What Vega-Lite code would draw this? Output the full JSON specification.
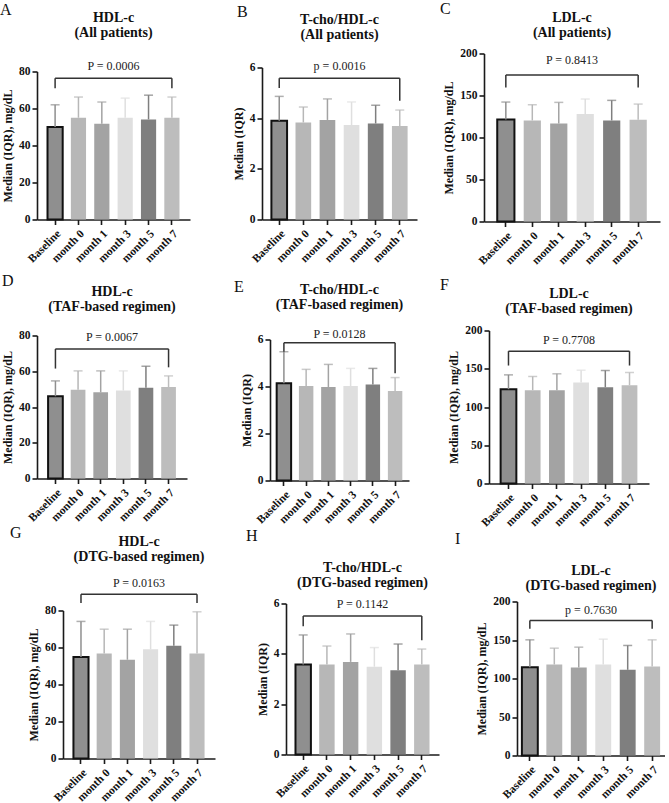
{
"$schema":"https://vega.github.io/schema/vega-lite/v6.json",
"padding":{"top":0.5,"left":0,"right":0,"bottom":0},
"config":{"font":"Liberation Serif","view":{"stroke":null},
"axis":{"domainColor":"#1a1a1a","domainWidth":1.6,"tickColor":"#1a1a1a","tickWidth":1.6,"tickSize":5,"labelFont":"Liberation Serif","labelFontWeight":"bold","labelFontSize":11.5,"labelColor":"#111","titleFont":"Liberation Serif","titleFontWeight":"bold","titleFontSize":12,"titleColor":"#111","grid":false,"labelPadding":2,"titlePadding":4},
"axisX":{"labelAngle":-45,"labelPadding":3},
"axisY":{"labelOverlap":false},
"title":{"font":"Liberation Serif","fontSize":14,"fontWeight":"bold","color":"#111","lineHeight":15}},
"datasets":{
"A":[{"group":"Baseline","median":50,"upper":62},{"group":"month 0","median":55,"upper":66.2},{"group":"month 1","median":51.8,"upper":63.5},{"group":"month 3","median":55,"upper":65.6},{"group":"month 5","median":54.1,"upper":67.2},{"group":"month 7","median":55,"upper":66.2}],
"Abr":[{"from":"Baseline","to":"month 7","mid":"month 1","top":76.4,"leftEnd":71,"rightEnd":71,"label":"P = 0.0006","labelY":83}],
"B":[{"group":"Baseline","median":3.9,"upper":4.86},{"group":"month 0","median":3.83,"upper":4.44},{"group":"month 1","median":3.93,"upper":4.76},{"group":"month 3","median":3.73,"upper":4.64},{"group":"month 5","median":3.79,"upper":4.51},{"group":"month 7","median":3.69,"upper":4.32}],
"Bbr":[{"from":"Baseline","to":"month 7","mid":"month 1","top":5.58,"leftEnd":5.19,"rightEnd":4.69,"label":"p = 0.0016","labelY":6.05}],
"C":[{"group":"Baseline","median":121.5,"upper":142.2},{"group":"month 0","median":120.3,"upper":139},{"group":"month 1","median":116.7,"upper":141.8},{"group":"month 3","median":127.9,"upper":145.8},{"group":"month 5","median":120.3,"upper":144.2},{"group":"month 7","median":121.1,"upper":139.8}],
"Cbr":[{"from":"Baseline","to":"month 7","mid":"month 1","top":174.5,"leftEnd":159.4,"rightEnd":159.4,"label":"P = 0.8413","labelY":192}],
"D":[{"group":"Baseline","median":46,"upper":54.6},{"group":"month 0","median":49.7,"upper":60.2},{"group":"month 1","median":48.2,"upper":60.2},{"group":"month 3","median":49.2,"upper":60.2},{"group":"month 5","median":50.7,"upper":62.8},{"group":"month 7","median":51.2,"upper":57.4}],
"Dbr":[{"from":"Baseline","to":"month 7","mid":"month 1","top":72.5,"leftEnd":61.5,"rightEnd":62.2,"label":"P = 0.0067","labelY":79}],
"E":[{"group":"Baseline","median":4.14,"upper":5.48},{"group":"month 0","median":4.02,"upper":4.73},{"group":"month 1","median":3.98,"upper":4.94},{"group":"month 3","median":4.02,"upper":4.77},{"group":"month 5","median":4.09,"upper":4.77},{"group":"month 7","median":3.81,"upper":4.38}],
"Ebr":[{"from":"Baseline","to":"month 7","mid":"month 1","top":5.86,"leftEnd":5.48,"rightEnd":4.56,"label":"P = 0.0128","labelY":6.24}],
"F":[{"group":"Baseline","median":123.3,"upper":142},{"group":"month 0","median":122,"upper":139.9},{"group":"month 1","median":122,"upper":143.4},{"group":"month 3","median":132,"upper":148.1},{"group":"month 5","median":125.9,"upper":147.7},{"group":"month 7","median":128.5,"upper":145.1}],
"Fbr":[{"from":"Baseline","to":"month 7","mid":"month 1","top":173,"leftEnd":154.2,"rightEnd":154.2,"label":"P = 0.7708","labelY":187}],
"G":[{"group":"Baseline","median":54.8,"upper":74.1},{"group":"month 0","median":56.8,"upper":69.9},{"group":"month 1","median":53.4,"upper":69.9},{"group":"month 3","median":59,"upper":74.1},{"group":"month 5","median":60.9,"upper":72.1},{"group":"month 7","median":56.8,"upper":79.3}],
"Gbr":[{"from":"Baseline","to":"month 7","mid":"month 1","top":88.8,"leftEnd":84,"rightEnd":84,"label":"P = 0.0163","labelY":95}],
"H":[{"group":"Baseline","median":3.58,"upper":4.75},{"group":"month 0","median":3.58,"upper":4.31},{"group":"month 1","median":3.68,"upper":4.79},{"group":"month 3","median":3.49,"upper":4.25},{"group":"month 5","median":3.35,"upper":4.39},{"group":"month 7","median":3.58,"upper":4.19}],
"Hbr":[{"from":"Baseline","to":"month 7","mid":"month 1","top":5.5,"leftEnd":5.1,"rightEnd":4.54,"label":"P = 0.1142","labelY":6.0}],
"I":[{"group":"Baseline","median":114.7,"upper":150.2},{"group":"month 0","median":118.2,"upper":139.4},{"group":"month 1","median":114.3,"upper":140.7},{"group":"month 3","median":118.2,"upper":151.1},{"group":"month 5","median":111.3,"upper":142.9},{"group":"month 7","median":115.6,"upper":150.2}],
"Ibr":[{"from":"Baseline","to":"month 7","mid":"month 1","top":175.3,"leftEnd":164.5,"rightEnd":164.5,"label":"p = 0.7630","labelY":189}],
"empty":[]
},
"spacing":-5,
"vconcat":[
{"spacing":5,"vconcat":[
{"spacing":23,"hconcat":[{"spacing":42,"hconcat":[
{"title":{"text":"A","anchor":"start","frame":"group","offset":-6.5,"dx":-37,"fontSize":16,"fontWeight":"normal"},"bounds":"flush","spacing":0,"vconcat":[
{"width":1,"height":18,"data":{"name":"empty"},"mark":"point","encoding":{}},
{"width":153,"height":148,"title":{"text":["HDL-c","(All patients)"],"offset":19.5},"layer":[
{"data":{"name":"A"},"encoding":{"x":{"field":"group","type":"nominal","title":null,"scale":{"domain":["Baseline","month 0","month 1","month 3","month 5","month 7"],"paddingInner":0.35,"paddingOuter":0.45}},"color":{"field":"group","type":"nominal","legend":null,"scale":{"domain":["Baseline","month 0","month 1","month 3","month 5","month 7"],"range":["#8f8f8f","#b7b7b7","#a3a3a3","#dfdfdf","#7f7f7f","#bdbdbd"]}}},
"layer":[
{"mark":{"type":"bar","stroke":"#111","strokeWidth":2},"encoding":{"y":{"field":"median","type":"quantitative","title":"Median (IQR), mg/dL","scale":{"domain":[0,80]},"axis":{"values":[0,20,40,60,80],"tickCount":10,"format":"d","labelOverlap":false}},"strokeOpacity":{"condition":{"test":"datum.group === 'Baseline'","value":1},"value":0}}},
{"mark":{"type":"rule","strokeWidth":1.5},"encoding":{"y":{"field":"median","type":"quantitative"},"y2":{"field":"upper"}}},
{"mark":{"type":"tick","thickness":1.5,"size":9},"encoding":{"y":{"field":"upper","type":"quantitative"}}}]},
{"data":{"name":"Abr"},"layer":[
{"mark":{"type":"rule","color":"#333","strokeWidth":1.5},"encoding":{"x":{"field":"from","type":"nominal","title":null},"x2":{"field":"to"},"y":{"field":"top","type":"quantitative"}}},
{"mark":{"type":"rule","color":"#333","strokeWidth":1.5},"encoding":{"x":{"field":"from","type":"nominal","title":null},"y":{"field":"top","type":"quantitative"},"y2":{"field":"leftEnd"}}},
{"mark":{"type":"rule","color":"#333","strokeWidth":1.5},"encoding":{"x":{"field":"to","type":"nominal","title":null},"y":{"field":"top","type":"quantitative"},"y2":{"field":"rightEnd"}}},
{"mark":{"type":"text","fontSize":12,"color":"#222","baseline":"middle"},"encoding":{"x":{"field":"mid","type":"nominal","title":null,"bandPosition":1.27},"y":{"field":"labelY","type":"quantitative"},"text":{"field":"label"}}}]}]}]},
{"title":{"text":"B","anchor":"start","frame":"group","offset":-7.5,"dx":-25,"fontSize":16,"fontWeight":"normal"},"bounds":"flush","spacing":0,"vconcat":[
{"width":1,"height":14,"data":{"name":"empty"},"mark":"point","encoding":{}},
{"width":155,"height":152,"title":{"text":["T-cho/HDL-c","(All patients)"],"offset":18.7},"layer":[
{"data":{"name":"B"},"encoding":{"x":{"field":"group","type":"nominal","title":null,"scale":{"domain":["Baseline","month 0","month 1","month 3","month 5","month 7"],"paddingInner":0.35,"paddingOuter":0.39}},"color":{"field":"group","type":"nominal","legend":null,"scale":{"domain":["Baseline","month 0","month 1","month 3","month 5","month 7"],"range":["#8f8f8f","#b7b7b7","#a3a3a3","#dfdfdf","#7f7f7f","#bdbdbd"]}}},
"layer":[
{"mark":{"type":"bar","stroke":"#111","strokeWidth":2},"encoding":{"y":{"field":"median","type":"quantitative","title":"Median (IQR)","scale":{"domain":[0,6]},"axis":{"values":[0,2,4,6],"tickCount":10,"format":"d","labelOverlap":false}},"strokeOpacity":{"condition":{"test":"datum.group === 'Baseline'","value":1},"value":0}}},
{"mark":{"type":"rule","strokeWidth":1.5},"encoding":{"y":{"field":"median","type":"quantitative"},"y2":{"field":"upper"}}},
{"mark":{"type":"tick","thickness":1.5,"size":9},"encoding":{"y":{"field":"upper","type":"quantitative"}}}]},
{"data":{"name":"Bbr"},"layer":[
{"mark":{"type":"rule","color":"#333","strokeWidth":1.5},"encoding":{"x":{"field":"from","type":"nominal","title":null},"x2":{"field":"to"},"y":{"field":"top","type":"quantitative"}}},
{"mark":{"type":"rule","color":"#333","strokeWidth":1.5},"encoding":{"x":{"field":"from","type":"nominal","title":null},"y":{"field":"top","type":"quantitative"},"y2":{"field":"leftEnd"}}},
{"mark":{"type":"rule","color":"#333","strokeWidth":1.5},"encoding":{"x":{"field":"to","type":"nominal","title":null},"y":{"field":"top","type":"quantitative"},"y2":{"field":"rightEnd"}}},
{"mark":{"type":"text","fontSize":12,"color":"#222","baseline":"middle"},"encoding":{"x":{"field":"mid","type":"nominal","title":null,"bandPosition":1.27},"y":{"field":"labelY","type":"quantitative"},"text":{"field":"label"}}}]}]}]}
]},
{"title":{"text":"C","anchor":"start","frame":"group","offset":-6,"dx":-44,"fontSize":16,"fontWeight":"normal"},"bounds":"flush","spacing":0,"vconcat":[
{"width":176,"height":168,"title":{"text":["LDL-c","(All patients)"],"offset":7.5},"layer":[
{"data":{"name":"C"},"encoding":{"x":{"field":"group","type":"nominal","title":null,"scale":{"domain":["Baseline","month 0","month 1","month 3","month 5","month 7"],"paddingInner":0.35,"paddingOuter":0.5}},"color":{"field":"group","type":"nominal","legend":null,"scale":{"domain":["Baseline","month 0","month 1","month 3","month 5","month 7"],"range":["#8f8f8f","#b7b7b7","#a3a3a3","#dfdfdf","#7f7f7f","#bdbdbd"]}}},
"layer":[
{"mark":{"type":"bar","stroke":"#111","strokeWidth":2},"encoding":{"y":{"field":"median","type":"quantitative","title":"Median (IQR), mg/dL","scale":{"domain":[0,200]},"axis":{"values":[0,50,100,150,200],"tickCount":10,"format":"d","labelOverlap":false}},"strokeOpacity":{"condition":{"test":"datum.group === 'Baseline'","value":1},"value":0}}},
{"mark":{"type":"rule","strokeWidth":1.5},"encoding":{"y":{"field":"median","type":"quantitative"},"y2":{"field":"upper"}}},
{"mark":{"type":"tick","thickness":1.5,"size":9},"encoding":{"y":{"field":"upper","type":"quantitative"}}}]},
{"data":{"name":"Cbr"},"layer":[
{"mark":{"type":"rule","color":"#333","strokeWidth":1.5},"encoding":{"x":{"field":"from","type":"nominal","title":null},"x2":{"field":"to"},"y":{"field":"top","type":"quantitative"}}},
{"mark":{"type":"rule","color":"#333","strokeWidth":1.5},"encoding":{"x":{"field":"from","type":"nominal","title":null},"y":{"field":"top","type":"quantitative"},"y2":{"field":"leftEnd"}}},
{"mark":{"type":"rule","color":"#333","strokeWidth":1.5},"encoding":{"x":{"field":"to","type":"nominal","title":null},"y":{"field":"top","type":"quantitative"},"y2":{"field":"rightEnd"}}},
{"mark":{"type":"text","fontSize":12,"color":"#222","baseline":"middle"},"encoding":{"x":{"field":"mid","type":"nominal","title":null,"bandPosition":1.27},"y":{"field":"labelY","type":"quantitative"},"text":{"field":"label"}}}]}]}]}
]},
{"spacing":31,"hconcat":[{"spacing":47,"hconcat":[
{"title":{"text":"D","anchor":"start","frame":"group","offset":-4,"dx":-35,"fontSize":16,"fontWeight":"normal"},"bounds":"flush","spacing":0,"vconcat":[
{"width":1,"height":5,"data":{"name":"empty"},"mark":"point","encoding":{}},
{"width":150,"height":143,"title":{"text":["HDL-c","(TAF-based regimen)"],"offset":15.5},"layer":[
{"data":{"name":"D"},"encoding":{"x":{"field":"group","type":"nominal","title":null,"scale":{"domain":["Baseline","month 0","month 1","month 3","month 5","month 7"],"paddingInner":0.35,"paddingOuter":0.49}},"color":{"field":"group","type":"nominal","legend":null,"scale":{"domain":["Baseline","month 0","month 1","month 3","month 5","month 7"],"range":["#8f8f8f","#b7b7b7","#a3a3a3","#dfdfdf","#7f7f7f","#bdbdbd"]}}},
"layer":[
{"mark":{"type":"bar","stroke":"#111","strokeWidth":2},"encoding":{"y":{"field":"median","type":"quantitative","title":"Median (IQR), mg/dL","scale":{"domain":[0,80]},"axis":{"values":[0,20,40,60,80],"tickCount":10,"format":"d","labelOverlap":false}},"strokeOpacity":{"condition":{"test":"datum.group === 'Baseline'","value":1},"value":0}}},
{"mark":{"type":"rule","strokeWidth":1.5},"encoding":{"y":{"field":"median","type":"quantitative"},"y2":{"field":"upper"}}},
{"mark":{"type":"tick","thickness":1.5,"size":9},"encoding":{"y":{"field":"upper","type":"quantitative"}}}]},
{"data":{"name":"Dbr"},"layer":[
{"mark":{"type":"rule","color":"#333","strokeWidth":1.5},"encoding":{"x":{"field":"from","type":"nominal","title":null},"x2":{"field":"to"},"y":{"field":"top","type":"quantitative"}}},
{"mark":{"type":"rule","color":"#333","strokeWidth":1.5},"encoding":{"x":{"field":"from","type":"nominal","title":null},"y":{"field":"top","type":"quantitative"},"y2":{"field":"leftEnd"}}},
{"mark":{"type":"rule","color":"#333","strokeWidth":1.5},"encoding":{"x":{"field":"to","type":"nominal","title":null},"y":{"field":"top","type":"quantitative"},"y2":{"field":"rightEnd"}}},
{"mark":{"type":"text","fontSize":12,"color":"#222","baseline":"middle"},"encoding":{"x":{"field":"mid","type":"nominal","title":null,"bandPosition":1.27},"y":{"field":"labelY","type":"quantitative"},"text":{"field":"label"}}}]}]}]},
{"title":{"text":"E","anchor":"start","frame":"group","offset":-12,"dx":-36,"fontSize":16,"fontWeight":"normal"},"bounds":"flush","spacing":0,"vconcat":[
{"width":1,"height":9,"data":{"name":"empty"},"mark":"point","encoding":{}},
{"width":139,"height":141,"title":{"text":["T-cho/HDL-c","(TAF-based  regimen)"],"offset":16},"layer":[
{"data":{"name":"E"},"encoding":{"x":{"field":"group","type":"nominal","title":null,"scale":{"domain":["Baseline","month 0","month 1","month 3","month 5","month 7"],"paddingInner":0.35,"paddingOuter":0.3}},"color":{"field":"group","type":"nominal","legend":null,"scale":{"domain":["Baseline","month 0","month 1","month 3","month 5","month 7"],"range":["#8f8f8f","#b7b7b7","#a3a3a3","#dfdfdf","#7f7f7f","#bdbdbd"]}}},
"layer":[
{"mark":{"type":"bar","stroke":"#111","strokeWidth":2},"encoding":{"y":{"field":"median","type":"quantitative","title":"Median (IQR)","scale":{"domain":[0,6]},"axis":{"values":[0,2,4,6],"tickCount":10,"format":"d","labelOverlap":false}},"strokeOpacity":{"condition":{"test":"datum.group === 'Baseline'","value":1},"value":0}}},
{"mark":{"type":"rule","strokeWidth":1.5},"encoding":{"y":{"field":"median","type":"quantitative"},"y2":{"field":"upper"}}},
{"mark":{"type":"tick","thickness":1.5,"size":9},"encoding":{"y":{"field":"upper","type":"quantitative"}}}]},
{"data":{"name":"Ebr"},"layer":[
{"mark":{"type":"rule","color":"#333","strokeWidth":1.5},"encoding":{"x":{"field":"from","type":"nominal","title":null},"x2":{"field":"to"},"y":{"field":"top","type":"quantitative"}}},
{"mark":{"type":"rule","color":"#333","strokeWidth":1.5},"encoding":{"x":{"field":"from","type":"nominal","title":null},"y":{"field":"top","type":"quantitative"},"y2":{"field":"leftEnd"}}},
{"mark":{"type":"rule","color":"#333","strokeWidth":1.5},"encoding":{"x":{"field":"to","type":"nominal","title":null},"y":{"field":"top","type":"quantitative"},"y2":{"field":"rightEnd"}}},
{"mark":{"type":"text","fontSize":12,"color":"#222","baseline":"middle"},"encoding":{"x":{"field":"mid","type":"nominal","title":null,"bandPosition":1.27},"y":{"field":"labelY","type":"quantitative"},"text":{"field":"label"}}}]}]}]}
]},
{"title":{"text":"F","anchor":"start","frame":"group","offset":-6,"dx":-49,"fontSize":16,"fontWeight":"normal"},"bounds":"flush","spacing":0,"vconcat":[
{"width":160,"height":153,"title":{"text":["LDL-c","(TAF-based  regimen)"],"offset":8.5},"layer":[
{"data":{"name":"F"},"encoding":{"x":{"field":"group","type":"nominal","title":null,"scale":{"domain":["Baseline","month 0","month 1","month 3","month 5","month 7"],"paddingInner":0.35,"paddingOuter":0.48}},"color":{"field":"group","type":"nominal","legend":null,"scale":{"domain":["Baseline","month 0","month 1","month 3","month 5","month 7"],"range":["#8f8f8f","#b7b7b7","#a3a3a3","#dfdfdf","#7f7f7f","#bdbdbd"]}}},
"layer":[
{"mark":{"type":"bar","stroke":"#111","strokeWidth":2},"encoding":{"y":{"field":"median","type":"quantitative","title":"Median (IQR), mg/dL","scale":{"domain":[0,200]},"axis":{"values":[0,50,100,150,200],"tickCount":10,"format":"d","labelOverlap":false}},"strokeOpacity":{"condition":{"test":"datum.group === 'Baseline'","value":1},"value":0}}},
{"mark":{"type":"rule","strokeWidth":1.5},"encoding":{"y":{"field":"median","type":"quantitative"},"y2":{"field":"upper"}}},
{"mark":{"type":"tick","thickness":1.5,"size":9},"encoding":{"y":{"field":"upper","type":"quantitative"}}}]},
{"data":{"name":"Fbr"},"layer":[
{"mark":{"type":"rule","color":"#333","strokeWidth":1.5},"encoding":{"x":{"field":"from","type":"nominal","title":null},"x2":{"field":"to"},"y":{"field":"top","type":"quantitative"}}},
{"mark":{"type":"rule","color":"#333","strokeWidth":1.5},"encoding":{"x":{"field":"from","type":"nominal","title":null},"y":{"field":"top","type":"quantitative"},"y2":{"field":"leftEnd"}}},
{"mark":{"type":"rule","color":"#333","strokeWidth":1.5},"encoding":{"x":{"field":"to","type":"nominal","title":null},"y":{"field":"top","type":"quantitative"},"y2":{"field":"rightEnd"}}},
{"mark":{"type":"text","fontSize":12,"color":"#222","baseline":"middle"},"encoding":{"x":{"field":"mid","type":"nominal","title":null,"bandPosition":1.27},"y":{"field":"labelY","type":"quantitative"},"text":{"field":"label"}}}]}]}]}
]}
]},
{"spacing":16,"hconcat":[{"spacing":31,"hconcat":[{"spacing":-40,"hconcat":[
{"width":13,"height":1,"data":{"name":"empty"},"mark":"point","encoding":{}},
{"title":{"text":"G","anchor":"start","frame":"group","offset":-6,"dx":-53,"fontSize":16,"fontWeight":"normal"},"bounds":"flush","spacing":0,"vconcat":[
{"width":1,"height":9,"data":{"name":"empty"},"mark":"point","encoding":{}},
{"width":152,"height":148,"title":{"text":["HDL-c","(DTG-based regimen)"],"offset":12.5},"layer":[
{"data":{"name":"G"},"encoding":{"x":{"field":"group","type":"nominal","title":null,"scale":{"domain":["Baseline","month 0","month 1","month 3","month 5","month 7"],"paddingInner":0.35,"paddingOuter":0.45}},"color":{"field":"group","type":"nominal","legend":null,"scale":{"domain":["Baseline","month 0","month 1","month 3","month 5","month 7"],"range":["#8f8f8f","#b7b7b7","#a3a3a3","#dfdfdf","#7f7f7f","#bdbdbd"]}}},
"layer":[
{"mark":{"type":"bar","stroke":"#111","strokeWidth":2},"encoding":{"y":{"field":"median","type":"quantitative","title":"Median (IQR), mg/dL","scale":{"domain":[0,80]},"axis":{"values":[0,20,40,60,80],"tickCount":10,"format":"d","labelOverlap":false}},"strokeOpacity":{"condition":{"test":"datum.group === 'Baseline'","value":1},"value":0}}},
{"mark":{"type":"rule","strokeWidth":1.5},"encoding":{"y":{"field":"median","type":"quantitative"},"y2":{"field":"upper"}}},
{"mark":{"type":"tick","thickness":1.5,"size":9},"encoding":{"y":{"field":"upper","type":"quantitative"}}}]},
{"data":{"name":"Gbr"},"layer":[
{"mark":{"type":"rule","color":"#333","strokeWidth":1.5},"encoding":{"x":{"field":"from","type":"nominal","title":null},"x2":{"field":"to"},"y":{"field":"top","type":"quantitative"}}},
{"mark":{"type":"rule","color":"#333","strokeWidth":1.5},"encoding":{"x":{"field":"from","type":"nominal","title":null},"y":{"field":"top","type":"quantitative"},"y2":{"field":"leftEnd"}}},
{"mark":{"type":"rule","color":"#333","strokeWidth":1.5},"encoding":{"x":{"field":"to","type":"nominal","title":null},"y":{"field":"top","type":"quantitative"},"y2":{"field":"rightEnd"}}},
{"mark":{"type":"text","fontSize":12,"color":"#222","baseline":"middle"},"encoding":{"x":{"field":"mid","type":"nominal","title":null,"bandPosition":1.27},"y":{"field":"labelY","type":"quantitative"},"text":{"field":"label"}}}]}]}]}
]},
{"title":{"text":"H","anchor":"start","frame":"group","offset":16.6,"dx":-40,"fontSize":16,"fontWeight":"normal"},"bounds":"flush","spacing":0,"vconcat":[
{"width":1,"height":2,"data":{"name":"empty"},"mark":"point","encoding":{}},
{"width":153,"height":151,"title":{"text":["T-cho/HDL-c","(DTG-based regimen)"],"offset":7.5},"layer":[
{"data":{"name":"H"},"encoding":{"x":{"field":"group","type":"nominal","title":null,"scale":{"domain":["Baseline","month 0","month 1","month 3","month 5","month 7"],"paddingInner":0.35,"paddingOuter":0.4}},"color":{"field":"group","type":"nominal","legend":null,"scale":{"domain":["Baseline","month 0","month 1","month 3","month 5","month 7"],"range":["#8f8f8f","#b7b7b7","#a3a3a3","#dfdfdf","#7f7f7f","#bdbdbd"]}}},
"layer":[
{"mark":{"type":"bar","stroke":"#111","strokeWidth":2},"encoding":{"y":{"field":"median","type":"quantitative","title":"Median (IQR)","scale":{"domain":[0,6]},"axis":{"values":[0,2,4,6],"tickCount":10,"format":"d","labelOverlap":false}},"strokeOpacity":{"condition":{"test":"datum.group === 'Baseline'","value":1},"value":0}}},
{"mark":{"type":"rule","strokeWidth":1.5},"encoding":{"y":{"field":"median","type":"quantitative"},"y2":{"field":"upper"}}},
{"mark":{"type":"tick","thickness":1.5,"size":9},"encoding":{"y":{"field":"upper","type":"quantitative"}}}]},
{"data":{"name":"Hbr"},"layer":[
{"mark":{"type":"rule","color":"#333","strokeWidth":1.5},"encoding":{"x":{"field":"from","type":"nominal","title":null},"x2":{"field":"to"},"y":{"field":"top","type":"quantitative"}}},
{"mark":{"type":"rule","color":"#333","strokeWidth":1.5},"encoding":{"x":{"field":"from","type":"nominal","title":null},"y":{"field":"top","type":"quantitative"},"y2":{"field":"leftEnd"}}},
{"mark":{"type":"rule","color":"#333","strokeWidth":1.5},"encoding":{"x":{"field":"to","type":"nominal","title":null},"y":{"field":"top","type":"quantitative"},"y2":{"field":"rightEnd"}}},
{"mark":{"type":"text","fontSize":12,"color":"#222","baseline":"middle"},"encoding":{"x":{"field":"mid","type":"nominal","title":null,"bandPosition":1.27},"y":{"field":"labelY","type":"quantitative"},"text":{"field":"label"}}}]}]}]}
]},
{"title":{"text":"I","anchor":"start","frame":"group","offset":16.6,"dx":-62,"fontSize":16,"fontWeight":"normal"},"bounds":"flush","spacing":0,"vconcat":[
{"width":148,"height":154,"title":{"text":["LDL-c","(DTG-based regimen)"],"offset":3},"layer":[
{"data":{"name":"I"},"encoding":{"x":{"field":"group","type":"nominal","title":null,"scale":{"domain":["Baseline","month 0","month 1","month 3","month 5","month 7"],"paddingInner":0.35,"paddingOuter":0.2}},"color":{"field":"group","type":"nominal","legend":null,"scale":{"domain":["Baseline","month 0","month 1","month 3","month 5","month 7"],"range":["#8f8f8f","#b7b7b7","#a3a3a3","#dfdfdf","#7f7f7f","#bdbdbd"]}}},
"layer":[
{"mark":{"type":"bar","stroke":"#111","strokeWidth":2},"encoding":{"y":{"field":"median","type":"quantitative","title":"Median (IQR), mg/dL","scale":{"domain":[0,200]},"axis":{"values":[0,50,100,150,200],"tickCount":10,"format":"d","labelOverlap":false}},"strokeOpacity":{"condition":{"test":"datum.group === 'Baseline'","value":1},"value":0}}},
{"mark":{"type":"rule","strokeWidth":1.5},"encoding":{"y":{"field":"median","type":"quantitative"},"y2":{"field":"upper"}}},
{"mark":{"type":"tick","thickness":1.5,"size":9},"encoding":{"y":{"field":"upper","type":"quantitative"}}}]},
{"data":{"name":"Ibr"},"layer":[
{"mark":{"type":"rule","color":"#333","strokeWidth":1.5},"encoding":{"x":{"field":"from","type":"nominal","title":null},"x2":{"field":"to"},"y":{"field":"top","type":"quantitative"}}},
{"mark":{"type":"rule","color":"#333","strokeWidth":1.5},"encoding":{"x":{"field":"from","type":"nominal","title":null},"y":{"field":"top","type":"quantitative"},"y2":{"field":"leftEnd"}}},
{"mark":{"type":"rule","color":"#333","strokeWidth":1.5},"encoding":{"x":{"field":"to","type":"nominal","title":null},"y":{"field":"top","type":"quantitative"},"y2":{"field":"rightEnd"}}},
{"mark":{"type":"text","fontSize":12,"color":"#222","baseline":"middle"},"encoding":{"x":{"field":"mid","type":"nominal","title":null,"bandPosition":1.27},"y":{"field":"labelY","type":"quantitative"},"text":{"field":"label"}}}]}]}]}
]}
]}
